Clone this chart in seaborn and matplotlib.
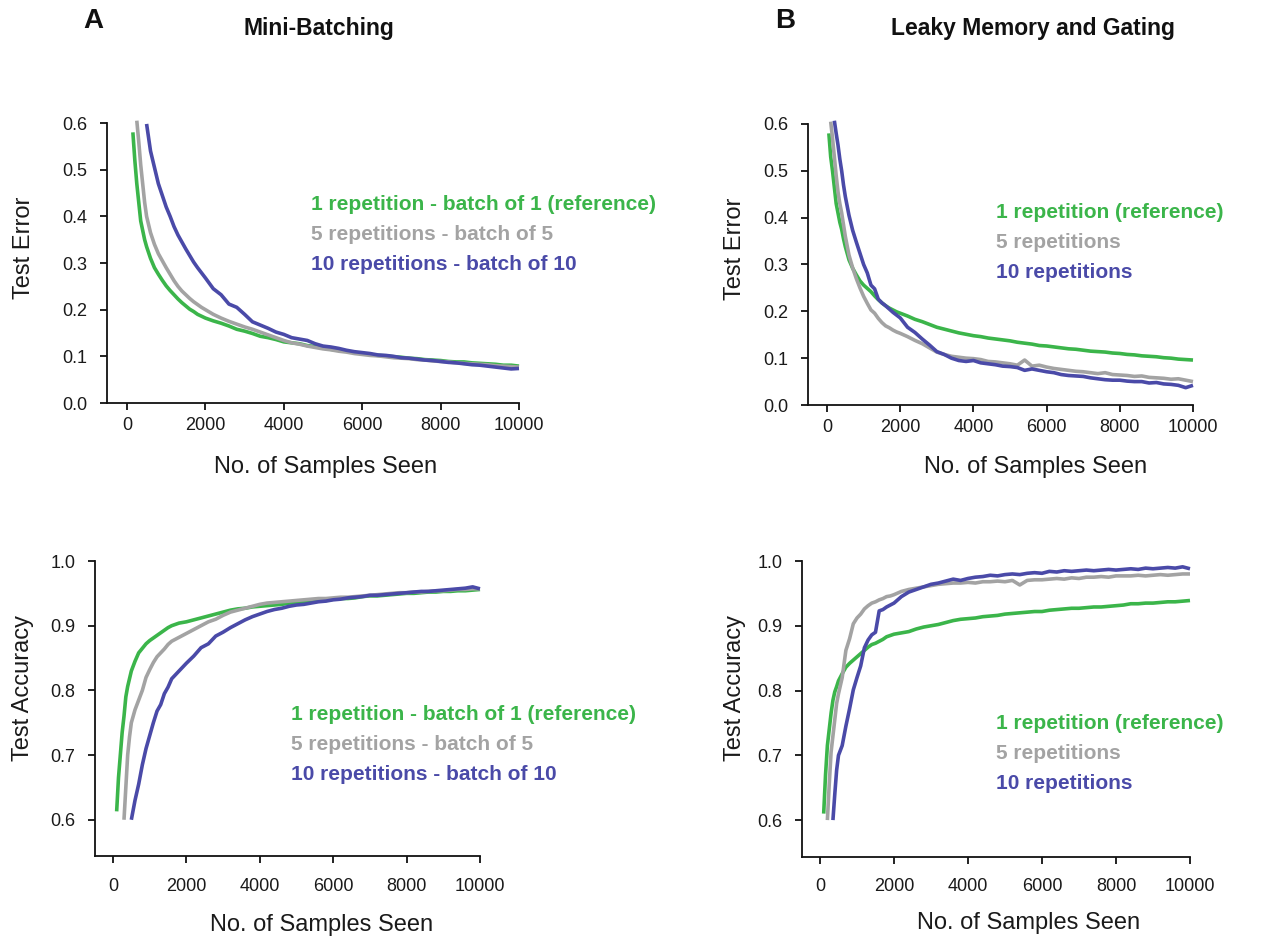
import numpy as np
import pandas as pd
import matplotlib
matplotlib.use("Agg")
import matplotlib.pyplot as plt
from matplotlib.ticker import FormatStrFormatter
import seaborn as sns

nan = np.nan

# Number of training samples seen at each evaluation point
SAMPLES = list(range(50, 501, 50)) + list(range(600, 2001, 100)) + list(range(2200, 10001, 200))

SERIES = ["1 repetition", "5 repetitions", "10 repetitions"]
COLORS = {"1 repetition": "#3bb54a", "5 repetitions": "#a3a3a3", "10 repetitions": "#4a4aa8"}

# ---- Panel A: mini-batching, test error ----
err_mb_1 = [nan, nan, 0.58, 0.52, 0.47, 0.43, 0.39, 0.37, 0.35, 0.335,
            0.31, 0.29, 0.276, 0.263, 0.251, 0.241, 0.232, 0.223, 0.215, 0.208, 0.201, 0.196, 0.19, 0.186, 0.182,
            0.176, 0.171, 0.165, 0.158, 0.154, 0.149, 0.143, 0.140, 0.136, 0.131, 0.129, 0.127, 0.123, 0.121, 0.118,
            0.115, 0.113, 0.111, 0.108, 0.106, 0.104, 0.102, 0.101, 0.099, 0.098, 0.096, 0.095, 0.093, 0.092, 0.091,
            0.089, 0.088, 0.088, 0.086, 0.085, 0.084, 0.083, 0.081, 0.081, 0.079]
err_mb_5 = [nan, nan, nan, nan, 0.605, 0.56, 0.51, 0.47, 0.43, 0.40,
            0.365, 0.34, 0.32, 0.305, 0.29, 0.276, 0.262, 0.25, 0.24, 0.232, 0.224, 0.217, 0.211, 0.205, 0.2,
            0.19, 0.182, 0.175, 0.169, 0.163, 0.158, 0.152, 0.146, 0.14, 0.134, 0.129, 0.126, 0.122, 0.119, 0.116,
            0.114, 0.111, 0.109, 0.106, 0.104, 0.102, 0.101, 0.099, 0.097, 0.096, 0.095, 0.093, 0.092, 0.09, 0.089,
            0.088, 0.086, 0.085, 0.084, 0.083, 0.082, 0.08, 0.079, 0.078, 0.077]
err_mb_10 = [nan, nan, nan, nan, nan, nan, nan, nan, nan, 0.598,
             0.54, 0.505, 0.47, 0.445, 0.42, 0.40, 0.378, 0.36, 0.345, 0.33, 0.316, 0.302, 0.29, 0.279, 0.268,
             0.245, 0.232, 0.212, 0.205, 0.19, 0.174, 0.167, 0.16, 0.152, 0.147, 0.14, 0.137, 0.134, 0.127, 0.122,
             0.12, 0.117, 0.113, 0.11, 0.108, 0.106, 0.103, 0.102, 0.1, 0.097, 0.096, 0.094, 0.092, 0.091, 0.089,
             0.087, 0.086, 0.084, 0.082, 0.081, 0.079, 0.077, 0.075, 0.073, 0.074]

# ---- Panel A: mini-batching, test accuracy ----
acc_mb_1 = [nan, 0.613, 0.665, 0.70, 0.735, 0.76, 0.79, 0.806, 0.818, 0.83,
            0.845, 0.858, 0.865, 0.872, 0.877, 0.881, 0.885, 0.889, 0.893, 0.897, 0.9, 0.902, 0.904, 0.905, 0.906,
            0.909, 0.912, 0.915, 0.918, 0.921, 0.924, 0.926, 0.927, 0.929, 0.93, 0.931, 0.932, 0.933, 0.935, 0.935,
            0.936, 0.937, 0.938, 0.939, 0.941, 0.942, 0.942, 0.943, 0.945, 0.946, 0.946, 0.947, 0.948, 0.949, 0.95,
            0.95, 0.951, 0.952, 0.952, 0.953, 0.953, 0.954, 0.954, 0.955, 0.956]
acc_mb_5 = [nan, nan, nan, nan, nan, 0.60, 0.65, 0.70, 0.728, 0.75,
            0.77, 0.785, 0.80, 0.82, 0.832, 0.843, 0.852, 0.858, 0.864, 0.871, 0.876, 0.879, 0.882, 0.885, 0.888,
            0.894, 0.9, 0.906, 0.91, 0.916, 0.921, 0.924, 0.927, 0.93, 0.933, 0.935, 0.936, 0.937, 0.938, 0.939,
            0.94, 0.941, 0.942, 0.942, 0.943, 0.944, 0.944, 0.945, 0.946, 0.947, 0.948, 0.949, 0.95, 0.951, 0.951,
            0.952, 0.952, 0.953, 0.954, 0.954, 0.955, 0.956, 0.956, 0.957, 0.957]
acc_mb_10 = [nan, nan, nan, nan, nan, nan, nan, nan, nan, 0.60,
             0.63, 0.655, 0.685, 0.71, 0.73, 0.75, 0.768, 0.778, 0.795, 0.805, 0.818, 0.824, 0.83, 0.836, 0.842,
             0.853, 0.866, 0.872, 0.884, 0.89, 0.897, 0.903, 0.909, 0.914, 0.918, 0.922, 0.925, 0.927, 0.93, 0.932,
             0.933, 0.935, 0.937, 0.938, 0.94, 0.941, 0.943, 0.944, 0.945, 0.947, 0.947, 0.948, 0.949, 0.95, 0.951,
             0.952, 0.953, 0.953, 0.954, 0.955, 0.956, 0.957, 0.958, 0.96, 0.957]

# ---- Panel B: leaky memory and gating, test error ----
err_lm_1 = [0.58, 0.53, 0.50, 0.465, 0.43, 0.41, 0.39, 0.375, 0.355, 0.338,
            0.31, 0.292, 0.278, 0.265, 0.256, 0.249, 0.242, 0.233, 0.225, 0.218, 0.212, 0.207, 0.203, 0.199, 0.196,
            0.19, 0.183, 0.178, 0.172, 0.166, 0.162, 0.158, 0.154, 0.151, 0.148, 0.146, 0.143, 0.141, 0.139, 0.137,
            0.134, 0.132, 0.13, 0.127, 0.126, 0.124, 0.122, 0.12, 0.119, 0.117, 0.115, 0.114, 0.113, 0.111, 0.11,
            0.108, 0.107, 0.105, 0.104, 0.103, 0.101, 0.1, 0.098, 0.097, 0.096]
err_lm_5 = [nan, 0.605, 0.57, 0.53, 0.49, 0.455, 0.43, 0.41, 0.385, 0.36,
            0.32, 0.293, 0.27, 0.25, 0.232, 0.217, 0.203, 0.196, 0.185, 0.176, 0.169, 0.165, 0.16, 0.156, 0.153,
            0.146, 0.138, 0.131, 0.122, 0.113, 0.108, 0.104, 0.102, 0.1, 0.099, 0.097, 0.093, 0.092, 0.09, 0.088,
            0.085, 0.096, 0.083, 0.085, 0.081, 0.078, 0.076, 0.074, 0.072, 0.071, 0.069, 0.067, 0.069, 0.065, 0.064,
            0.063, 0.061, 0.062, 0.059, 0.058, 0.057, 0.055, 0.056, 0.053, 0.05]
err_lm_10 = [nan, nan, nan, 0.607, 0.58, 0.555, 0.525, 0.50, 0.47, 0.445,
             0.405, 0.373, 0.348, 0.324, 0.30, 0.282, 0.256, 0.248, 0.226, 0.218, 0.212, 0.205, 0.198, 0.192, 0.186,
             0.166, 0.155, 0.141, 0.128, 0.114, 0.108, 0.1, 0.095, 0.093, 0.095, 0.09, 0.088, 0.086, 0.083, 0.082,
             0.08, 0.074, 0.077, 0.074, 0.071, 0.069, 0.065, 0.063, 0.062, 0.061, 0.058, 0.056, 0.054, 0.053, 0.053,
             0.051, 0.05, 0.05, 0.047, 0.048, 0.045, 0.044, 0.042, 0.037, 0.042]

# ---- Panel B: leaky memory and gating, test accuracy ----
acc_lm_1 = [nan, 0.61, 0.67, 0.715, 0.74, 0.765, 0.785, 0.798, 0.806, 0.815,
            0.826, 0.836, 0.842, 0.847, 0.852, 0.857, 0.862, 0.867, 0.871, 0.873, 0.876, 0.879, 0.883, 0.885, 0.887,
            0.889, 0.891, 0.895, 0.898, 0.9, 0.902, 0.905, 0.908, 0.91, 0.911, 0.912, 0.914, 0.915, 0.916, 0.918,
            0.919, 0.92, 0.921, 0.922, 0.922, 0.924, 0.925, 0.926, 0.927, 0.927, 0.928, 0.929, 0.929, 0.93, 0.931,
            0.932, 0.934, 0.934, 0.935, 0.935, 0.936, 0.937, 0.937, 0.938, 0.939]
acc_lm_5 = [nan, nan, nan, 0.60, 0.655, 0.705, 0.73, 0.755, 0.78, 0.795,
            0.82, 0.862, 0.88, 0.903, 0.912, 0.918, 0.926, 0.931, 0.935, 0.937, 0.94, 0.942, 0.945, 0.946, 0.948,
            0.953, 0.956, 0.958, 0.96, 0.962, 0.964, 0.965, 0.966, 0.966, 0.967, 0.966, 0.968, 0.968, 0.969, 0.968,
            0.97, 0.963, 0.97, 0.971, 0.971, 0.972, 0.973, 0.972, 0.974, 0.973, 0.975, 0.975, 0.976, 0.975, 0.977,
            0.977, 0.977, 0.978, 0.977, 0.978, 0.979, 0.978, 0.979, 0.98, 0.98]
acc_lm_10 = [nan, nan, nan, nan, nan, nan, 0.60, 0.64, 0.677, 0.70,
             0.715, 0.745, 0.772, 0.801, 0.82, 0.838, 0.866, 0.878, 0.886, 0.89, 0.923, 0.925, 0.929, 0.932, 0.935,
             0.945, 0.952, 0.956, 0.96, 0.964, 0.966, 0.969, 0.972, 0.97, 0.973, 0.975, 0.976, 0.978, 0.977, 0.979,
             0.98, 0.979, 0.981, 0.982, 0.981, 0.984, 0.983, 0.985, 0.984, 0.985, 0.986, 0.985, 0.986, 0.987, 0.986,
             0.987, 0.988, 0.987, 0.989, 0.988, 0.989, 0.99, 0.989, 0.991, 0.988]

LABELS_MB = ["1 repetition - batch of 1 (reference)", "5 repetitions - batch of 5", "10 repetitions - batch of 10"]
LABELS_LM = ["1 repetition (reference)", "5 repetitions", "10 repetitions"]

W, H = 1267, 939


def to_frame(curves):
    rows = []
    for name, vals in zip(SERIES, curves):
        for s, v in zip(SAMPLES, vals):
            rows.append({"samples": s, "value": v, "run": name})
    return pd.DataFrame(rows).dropna()


sns.set_theme(style="ticks")
plt.rcParams["font.family"] = ["Liberation Sans", "DejaVu Sans"]

fig = plt.figure(figsize=(W / 100, H / 100), dpi=100)
fig.patch.set_facecolor("white")


def px_axes(left, top, right, bottom):
    return fig.add_axes([left / W, 1 - bottom / H, (right - left) / W, (bottom - top) / H])


panels = [
    # (rect, curves, xlim, ylim, yticks, ylabel pos, ylabel, xlabel pos, labels, label x, baselines, xpad)
    ((107, 123, 519, 403), [err_mb_1, err_mb_5, err_mb_10], (-510, 10000), (0, 0.6),
     np.arange(0, 0.61, 0.1), (24, 248), "Test Error", (326, 467), LABELS_MB, 311, (210, 240, 269.5), 5),
    ((95, 561, 480, 856), [acc_mb_1, acc_mb_5, acc_mb_10], (-490, 10000), (0.544, 1.0),
     np.arange(0.6, 1.01, 0.1), (23, 688), "Test Accuracy", (322, 925), LABELS_MB, 291, (720.5, 750.5, 780.5), 11),
    ((808, 124, 1193, 405), [err_lm_1, err_lm_5, err_lm_10], (-520, 10000), (0, 0.6),
     np.arange(0, 0.61, 0.1), (735, 249), "Test Error", (1036, 467), LABELS_LM, 996, (218, 248, 278), 5),
    ((802, 561, 1190, 857), [acc_lm_1, acc_lm_5, acc_lm_10], (-486, 10000), (0.543, 1.0),
     np.arange(0.6, 1.01, 0.1), (735, 688), "Test Accuracy", (1029, 923), LABELS_LM, 996, (729, 759, 789), 10),
]

for rect, curves, xlim, ylim, yticks, ylpos, ylab, xlpos, labels, lx, baselines, xpad in panels:
    ax = px_axes(*rect)
    df = to_frame(curves)
    sns.lineplot(data=df, x="samples", y="value", hue="run", hue_order=SERIES,
                 palette=COLORS, estimator=None, sort=True, legend=False,
                 linewidth=2.6, ax=ax)
    for ln in ax.get_lines():
        ln.set_clip_on(False)
        ln.set_solid_joinstyle("round")
        ln.set_solid_capstyle("butt")
    ax.set_xlim(*xlim)
    ax.set_ylim(*ylim)
    ax.set_xticks([0, 2000, 4000, 6000, 8000, 10000])
    ax.set_yticks(yticks)
    ax.yaxis.set_major_formatter(FormatStrFormatter("%.1f"))
    ax.set_xlabel("")
    ax.set_ylabel("")
    ax.set_facecolor("white")
    for side in ("top", "right"):
        ax.spines[side].set_visible(False)
    for side in ("left", "bottom"):
        ax.spines[side].set_linewidth(1.3)
        ax.spines[side].set_color("#111111")
    ax.tick_params(axis="both", direction="out", length=5, width=1.3, color="#111111",
                   labelsize=13, labelcolor="#1a1a1a")
    ax.tick_params(axis="x", pad=xpad)
    ax.tick_params(axis="y", pad=9)

    fig.text(ylpos[0] / W, 1 - ylpos[1] / H, ylab, rotation=90, ha="center", va="center",
             fontsize=17, color="#1a1a1a")
    fig.text(xlpos[0] / W, 1 - xlpos[1] / H, "No. of Samples Seen", ha="center", va="center",
             fontsize=17, color="#1a1a1a")
    for name, text, by in zip(SERIES, labels, baselines):
        fig.text(lx / W, 1 - by / H, text, ha="left", va="baseline", fontsize=15,
                 fontweight="bold", color=COLORS[name])

# Panel letters and titles
fig.text(93 / W, 1 - 21 / H, "A", ha="center", va="center", fontsize=20, fontweight="bold", color="#111111")
fig.text(319 / W, 1 - 28 / H, "Mini-Batching", ha="center", va="center", fontsize=16.5,
         fontweight="bold", color="#111111")
fig.text(785 / W, 1 - 21 / H, "B", ha="center", va="center", fontsize=20, fontweight="bold", color="#111111")
fig.text(1033 / W, 1 - 28 / H, "Leaky Memory and Gating", ha="center", va="center", fontsize=16.5,
         fontweight="bold", color="#111111")

fig.savefig("out.png", dpi=100, facecolor="white")
